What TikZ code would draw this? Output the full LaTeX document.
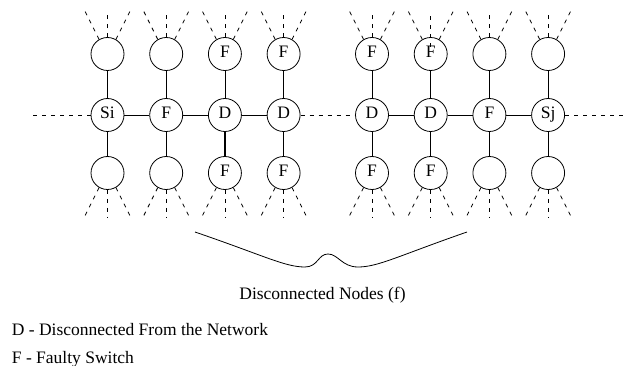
\documentclass[tikz,border=0pt]{standalone}
\usepackage{fontspec}
\setmainfont{Liberation Serif}
\usepackage{tikz}
\usetikzlibrary{calc}

\tikzset{
  sw/.style={circle, draw, line width=0.8pt, minimum size=33pt, inner sep=0pt,
    text height=11.5pt, text depth=3.5pt},
  dsh/.style={line width=0.8pt, dash pattern=on 4pt off 5pt},
  wire/.style={line width=0.8pt}
}

\begin{document}
\begin{tikzpicture}[x=1pt, y=-1pt, font=\fontsize{17.5}{21}\selectfont]
\useasboundingbox (0,0) rectangle (624,366);
% top row
\node[sw] (t1) at (107.5,54) {};
\node[sw] (t2) at (166.2,54) {};
\node[sw] (t3) at (224.9,54) {F};
\node[sw] (t4) at (283.6,54) {F};
\node[sw] (t5) at (372,54) {F};
\node[sw] (t6) at (430.7,54) {F};
\node[sw] (t7) at (489.4,54) {};
\node[sw] (t8) at (548.1,54) {};
% middle row
\node[sw] (m1) at (107.5,115) {Si};
\node[sw] (m2) at (166.2,115) {F};
\node[sw] (m3) at (224.9,115) {D};
\node[sw] (m4) at (283.6,115) {D};
\node[sw] (m5) at (372,115) {D};
\node[sw] (m6) at (430.7,115) {D};
\node[sw] (m7) at (489.4,115) {F};
\node[sw] (m8) at (548.1,115) {Sj};
% bottom row
\node[sw] (b1) at (107.5,173) {};
\node[sw] (b2) at (166.2,173) {};
\node[sw] (b3) at (224.9,173) {F};
\node[sw] (b4) at (283.6,173) {F};
\node[sw] (b5) at (372,173) {F};
\node[sw] (b6) at (430.7,173) {F};
\node[sw] (b7) at (489.4,173) {};
\node[sw] (b8) at (548.1,173) {};

\coordinate (lend) at (33,115);
\coordinate (rend) at (623,115);

% links
\draw[wire] (m1) -- (m2) -- (m3) -- (m4);
\draw[wire] (m5) -- (m6) -- (m7) -- (m8);
\draw[dsh] (lend) -- (m1);
\draw[dsh] (m4) -- (m5);
\draw[dsh] (m8) -- (rend);
\foreach \i in {1,2,4,5,6,7,8}{
  \draw[wire] (t\i) -- (m\i);
  \draw[wire] (m\i) -- (b\i);
}
\draw[wire] (t3) -- (m3);
\draw[line width=1.6pt] (m3) -- (b3);

% spokes
\foreach \i in {1,2,3,4,5,7,8}{
  \draw[dsh] (t\i.north) -- ++(0,-26);
}
\path (t6.center) ++(0,-7) coordinate (t6in);
\draw[dsh] (t6in) -- ++(0,-35);
\foreach \i in {1,...,8}{
  \draw[dsh] (t\i.120) -- ++(-14,-28);
  \draw[dsh] (t\i.60) -- ++(14,-28);
  \draw[dsh] (b\i.240) -- ++(-14,28);
  \draw[dsh] (b\i.south) -- ++(0,28);
  \draw[dsh] (b\i.300) -- ++(14,28);
}

% brace
\draw[wire] (195,232) .. controls (265,256) and (285,267) .. (305,267)
  .. controls (318,267) and (318,254) .. (328,254)
  .. controls (338,254) and (342,267) .. (358,267)
  .. controls (378,267) and (398,256) .. (467,232);
\node[anchor=base] (cap) at (322.5,299) {Disconnected Nodes (f)};

%\node[anchor=base west] at (11.7,335) {};
\node[anchor=base west, inner sep=0pt] (keyd) at (11.7,335) {D - Disconnected From the Network};
\node[anchor=base west, inner sep=0pt] (keyf) at (11.7,363) {F - Faulty Switch};
\end{tikzpicture}
\end{document}
